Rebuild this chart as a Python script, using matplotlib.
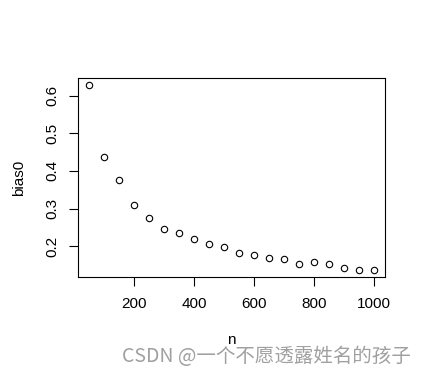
import matplotlib
matplotlib.use("Agg")
import matplotlib.pyplot as plt

# data
n = [50, 100, 150, 200, 250, 300, 350, 400, 450, 500,
     550, 600, 650, 700, 750, 800, 850, 900, 950, 1000]
bias0 = [0.627, 0.437, 0.375, 0.310, 0.276, 0.246, 0.235, 0.220, 0.205, 0.197,
         0.183, 0.178, 0.170, 0.167, 0.154, 0.157, 0.152, 0.143, 0.138, 0.138]
xticks = [200, 400, 600, 800, 1000]
yticks = [0.2, 0.3, 0.4, 0.5, 0.6]

plt.rcParams["font.family"] = ["Liberation Sans", "DejaVu Sans"]

fig = plt.figure(figsize=(4.26, 3.75), dpi=100)
ax = fig.add_axes([78 / 426, 98 / 375, 307 / 426, 199 / 375])

ax.plot(n, bias0, "o", mfc="none", mec="black", ms=4.6, mew=0.8)

# R-style 4% padding on both axes
xr = max(n) - min(n)
yr = max(bias0) - min(bias0)
ax.set_xlim(min(n) - 0.04 * xr, max(n) + 0.04 * xr)
ax.set_ylim(min(bias0) - 0.04 * yr, max(bias0) + 0.04 * yr)

ax.set_xticks(xticks)
ax.set_xticklabels([str(v) for v in xticks])
ax.set_yticks(yticks)
ax.set_yticklabels([f"{v:.1f}" for v in yticks], rotation=90, va="center")
ax.tick_params(length=6.5, width=0.8, labelsize=11, color="black")
ax.tick_params(axis="x", pad=8)
ax.tick_params(axis="y", pad=7)
for s in ax.spines.values():
    s.set_linewidth(0.8)

ax.set_xlabel("n", fontsize=11, labelpad=16)
ax.set_ylabel("bias0", fontsize=11, labelpad=14)

fig.text(0.965, 0.05, "CSDN @一个不愿透露姓名的孩子", ha="right", va="center",
         fontsize=14, color="#a0a0a0",
         family=["Noto Sans CJK SC", "DejaVu Sans"])

fig.savefig("out.png", dpi=100)
